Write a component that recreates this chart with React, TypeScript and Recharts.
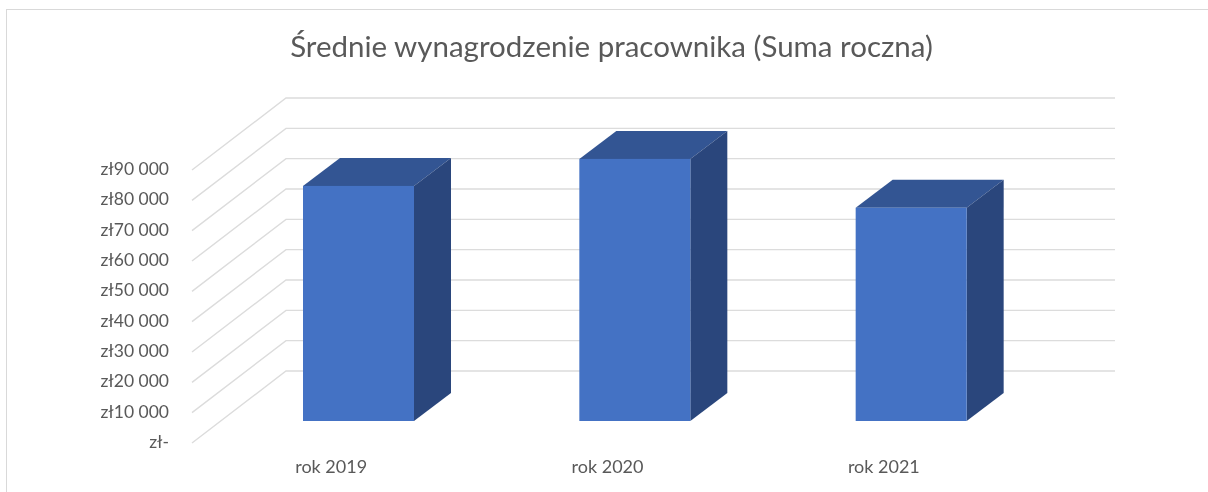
import { Bar, BarChart, CartesianGrid, XAxis, YAxis } from 'recharts'

const years = ['rok 2019', 'rok 2020', 'rok 2021']
const salaries = [77500, 86400, 70300]
const yTicks = [0, 10000, 20000, 30000, 40000, 50000, 60000, 70000, 80000, 90000]
const yTickLabels = ['zł-', 'zł10 000', 'zł20 000', 'zł30 000', 'zł40 000', 'zł50 000', 'zł60 000', 'zł70 000', 'zł80 000', 'zł90 000']
const title = 'Średnie wynagrodzenie pracownika (Suma roczna)'

const data = years.map((name, i) => ({ name, total: salaries[i] }))

const font = 'Lato, sans-serif'
const textColor = '#595959'
const gridColor = '#dcdcdc'

// the excel 3d look: floor in front of the bar base, wall behind it
const frontShift = 22
const wallLeft = 192
const wallBack = 286
const wallRight = 1115
const wallDy = 72
const barDx = 37
const barDy = 28
const labelRight = 169

function WallLine(props: any) {
  const y = props.y1 + frontShift
  return (
    <polyline
      points={`${wallLeft},${y} ${wallBack},${y - wallDy} ${wallRight},${y - wallDy}`}
      fill="none"
      stroke={gridColor}
      strokeWidth={1.4}
    />
  )
}

function YTick({ y, payload }: any) {
  return (
    <text x={labelRight} y={y + frontShift} dy={5} textAnchor="end" fontFamily={font} fontSize={17.5} fill={textColor}>
      {yTickLabels[yTicks.indexOf(payload.value)]}
    </text>
  )
}

function Box3D({ x, y, width, height }: any) {
  const r = x + width
  const b = y + height
  return (
    <g>
      <polygon points={`${x},${y} ${r},${y} ${r + barDx},${y - barDy} ${x + barDx},${y - barDy}`} fill="#335593" />
      <polygon points={`${r},${y} ${r + barDx},${y - barDy} ${r + barDx},${b - barDy} ${r},${b}`} fill="#2A467C" />
      <rect x={x} y={y} width={width} height={height} fill="#4472C4" />
    </g>
  )
}

export default function App() {
  return (
    <div style={{ position: 'absolute', left: 0, top: 0, width: 1208, height: 492, background: '#fff', overflow: 'hidden', filter: 'blur(0.4px)' }}>
      <div style={{ position: 'absolute', left: 6, top: 9, width: 1202, height: 483, borderLeft: '1.5px solid #d9d9d9', borderTop: '1.5px solid #d9d9d9' }} />
      <div
        style={{
          position: 'absolute',
          left: 0,
          width: 1223,
          top: 26,
          textAlign: 'center',
          fontFamily: font,
          fontSize: 29.5,
          lineHeight: '40px',
          color: textColor,
          whiteSpace: 'nowrap',
        }}
      >
        {title}
      </div>
      <div style={{ position: 'absolute', left: 0, top: 0 }}>
        <BarChart width={1208} height={492} data={data} margin={{ top: 148, right: 159, bottom: 70, left: 0 }}>
          <CartesianGrid vertical={false} horizontal={WallLine as any} />
          <XAxis
            dataKey="name"
            height={1}
            axisLine={false}
            tickLine={false}
            tick={{ fontFamily: font, fontSize: 18, fill: textColor, dx: -27, dy: 31 }}
          />
          <YAxis
            width={220}
            domain={[0, 90000]}
            ticks={yTicks}
            interval={0}
            axisLine={false}
            tickLine={false}
            tick={YTick}
          />
          <Bar dataKey="total" barSize={111} isAnimationActive={false} shape={Box3D} />
        </BarChart>
      </div>
    </div>
  )
}
